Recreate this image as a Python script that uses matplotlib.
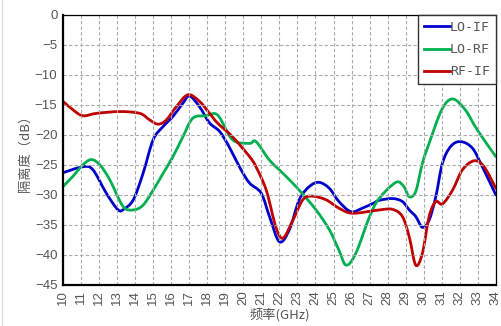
import matplotlib
matplotlib.use("Agg")
import matplotlib.pyplot as plt
from matplotlib.path import Path
from matplotlib.patches import PathPatch
from matplotlib.lines import Line2D

plt.rcParams['font.family'] = ['Liberation Sans', 'Noto Sans CJK SC', 'DejaVu Sans']

# LO-IF isolation
lo_if_f = [10.0, 11.1, 11.66, 12.4, 13.06, 13.4, 13.9, 14.44, 15.0, 15.55, 16.1, 16.65,
           17.02, 17.57, 18.13, 18.68, 19.2, 19.8, 20.34, 20.99, 21.45, 22.0, 22.55, 23.1,
           23.66, 24.2, 24.77, 25.3, 25.97, 26.6, 27.2, 27.53, 28.27, 28.82, 29.2, 29.56,
           29.93, 30.3, 30.67, 31.04, 31.5, 32.05, 32.7, 33.25, 34.0]
lo_if_db = [-26.3, -25.3, -25.8, -29.7, -32.5, -32.3, -30.8, -26.4, -20.8, -18.6, -16.9, -14.7,
            -13.5, -15.3, -18.0, -19.4, -21.9, -25.4, -28.0, -29.7, -33.6, -37.8, -35.8, -30.8,
            -28.6, -27.9, -28.9, -31.1, -32.8, -32.2, -31.4, -30.9, -30.6, -31.1, -32.5, -33.6,
            -35.4, -34.2, -30.3, -24.7, -21.9, -21.1, -22.2, -25.3, -30.0]

# LO-RF isolation
lo_rf_f = [10.0, 10.55, 11.1, 11.57, 12.05, 12.6, 13.33, 13.9, 14.44, 15.0, 15.55, 16.1,
           16.65, 17.2, 17.94, 18.58, 19.4, 20.34, 20.7, 21.45, 22.2, 23.1, 24.03, 24.77,
           25.3, 25.7, 26.24, 27.0, 27.53, 28.46, 28.9, 29.2, 29.56, 29.93, 30.3, 31.0,
           31.6, 32.3, 32.98, 34.0]
lo_rf_db = [-28.6, -26.9, -25.0, -24.1, -25.0, -27.5, -31.9, -32.5, -31.7, -29.2, -26.4, -23.6,
            -20.3, -17.2, -16.8, -16.7, -20.8, -21.4, -21.1, -24.2, -26.4, -29.2, -32.5, -35.8,
            -39.2, -41.7, -39.7, -33.6, -30.6, -27.9, -28.6, -30.3, -29.4, -24.7, -21.4, -15.8,
            -14.0, -15.8, -19.2, -23.6]

# RF-IF isolation
rf_if_f = [10.0, 10.55, 11.1, 11.85, 13.15, 14.26, 14.81, 15.27, 15.73, 16.28, 16.93, 17.57,
           18.13, 18.58, 19.4, 20.34, 20.7, 21.27, 21.8, 22.2, 22.75, 23.3, 23.8, 24.58,
           25.3, 26.06, 27.53, 28.27, 28.82, 29.2, 29.56, 29.93, 30.3, 30.67, 31.04, 31.6,
           32.15, 32.8, 33.35, 34.0]
rf_if_db = [-14.4, -15.8, -16.8, -16.4, -16.1, -16.4, -17.5, -18.2, -17.5, -15.3, -13.3, -14.4,
            -16.4, -18.05, -20.3, -23.6, -25.3, -29.2, -35.3, -37.2, -34.2, -30.8, -30.2, -30.8,
            -32.2, -33.05, -32.5, -32.4, -33.6, -37.0, -41.7, -39.7, -33.6, -31.1, -31.5, -29.2,
            -25.8, -24.3, -25.3, -28.9]

series_names = ['LO-IF', 'LO-RF', 'RF-IF']
series_colors = ['#0000cc', '#00b050', '#c00000']

x_ticks = list(range(10, 35))
y_ticks = list(range(-45, 1, 5))


def smooth_path(xs, ys):
    # Catmull-Rom style cubic Bezier passing through every point
    pts = list(zip(xs, ys))
    n = len(pts)
    verts = [pts[0]]
    codes = [Path.MOVETO]
    for i in range(n - 1):
        p0 = pts[i - 1] if i > 0 else pts[i]
        p1 = pts[i]
        p2 = pts[i + 1]
        p3 = pts[i + 2] if i + 2 < n else pts[i + 1]
        c1 = (p1[0] + (p2[0] - p0[0]) / 6, p1[1] + (p2[1] - p0[1]) / 6)
        c2 = (p2[0] - (p3[0] - p1[0]) / 6, p2[1] - (p3[1] - p1[1]) / 6)
        verts += [c1, c2, p2]
        codes += [Path.CURVE4] * 3
    return Path(verts, codes)


fig = plt.figure(figsize=(5.01, 3.26), dpi=100)
ax = fig.add_axes([0.1257, 0.126, 0.864, 0.828])

lw = 2.0
handles = []
for xs, ys, name, col in zip([lo_if_f, lo_rf_f, rf_if_f], [lo_if_db, lo_rf_db, rf_if_db],
                             series_names, series_colors):
    ax.add_patch(PathPatch(smooth_path(xs, ys), facecolor='none', edgecolor=col,
                           lw=lw, joinstyle='round', capstyle='round'))
    handles.append(Line2D([], [], color=col, lw=lw, label=name))

ax.set_xlim(10, 34)
ax.set_ylim(-45, 0)
ax.set_xticks(x_ticks)
ax.set_yticks(y_ticks)
ax.set_xticklabels([str(t) for t in x_ticks], rotation=90)
ax.set_yticklabels(['\u2212' + str(-t) if t < 0 else str(t) for t in y_ticks])
ax.tick_params(axis='both', length=0, colors='#555555', labelsize=9.5, pad=4)

ax.grid(True, color='#aaaaaa', linestyle=(0, (3, 2)), linewidth=0.8)
for side in ['left', 'bottom']:
    ax.spines[side].set_linewidth(1.6)
for side in ['top', 'right']:
    ax.spines[side].set_linewidth(0.9)

ax.set_xlabel('频率(GHz)', color='#555555', fontsize=9.5, labelpad=2,
              family=['Noto Sans CJK SC', 'DejaVu Sans'])
ax.set_ylabel('隔离度（dB）', color='#555555', fontsize=9.5, labelpad=2,
              family=['Noto Sans CJK SC', 'DejaVu Sans'])

leg = ax.legend(handles=handles, loc='upper right', fancybox=False, framealpha=1,
                edgecolor='#333333', handlelength=2.0, handletextpad=0.0, borderaxespad=0,
                labelspacing=0.7, borderpad=0.45,
                prop={'family': 'DejaVu Sans Mono', 'size': 9.5})
leg.get_frame().set_linewidth(1.0)
for t in leg.get_texts():
    t.set_color('#555555')

fig.patches.append(plt.Rectangle((0.003, -0.1), 1.2, 1.2, transform=fig.transFigure,
                                 fill=False, edgecolor='#dddddd', linewidth=1))

fig.savefig('out.png', dpi=100)
